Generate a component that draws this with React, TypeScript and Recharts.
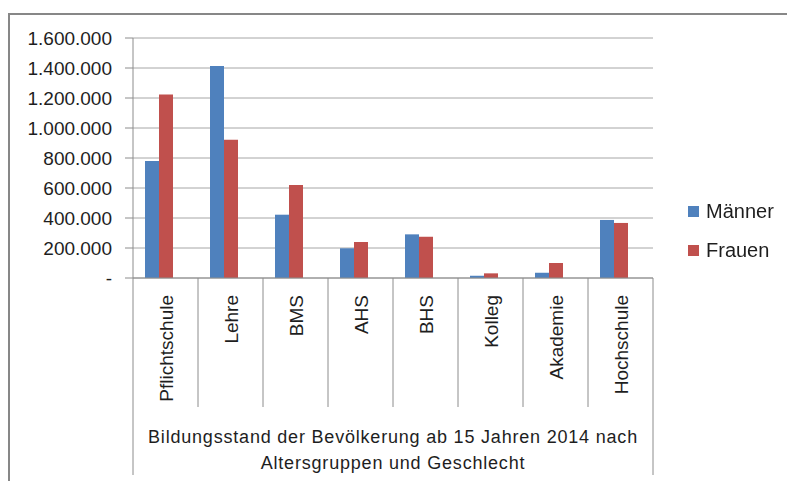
import React from 'react';
import { BarChart, Bar, XAxis, YAxis, CartesianGrid, Legend } from 'recharts';

const categories = ['Pflichtschule', 'Lehre', 'BMS', 'AHS', 'BHS', 'Kolleg', 'Akademie', 'Hochschule'];
const maenner = [780000, 1413000, 422000, 198000, 291000, 15000, 35000, 387000];
const frauen = [1224000, 922000, 620000, 240000, 275000, 31000, 100000, 367000];
const yTicks = [0, 200000, 400000, 600000, 800000, 1000000, 1200000, 1400000, 1600000];
const seriesNames = ['Männer', 'Frauen'];
const seriesColors = ['#4F81BD', '#C0504D'];
const titleLines = ['Bildungsstand der Bevölkerung ab 15 Jahren 2014 nach', 'Altersgruppen und Geschlecht'];

const data = categories.map((c, i) => ({ name: c, m: maenner[i], f: frauen[i] }));

const CHART_W = 777;
const CHART_H = 466;
const MARGIN = { top: 23, right: 134, bottom: 74, left: 0 };
const Y_AXIS_W = 123;
const X_AXIS_H = 129;
const PLOT_W = CHART_W - MARGIN.left - MARGIN.right - Y_AXIS_W;
const FONT = '"Liberation Sans", Arial, sans-serif';
const LINE = '#8c8c8c';
const TEXT = '#1e1e1e';

const fmt = (n: number) => (n === 0 ? '-' : String(n).replace(/\B(?=(\d{3})+(?!\d))/g, '.'));

const CatTick = (props: any) => {
  const { x, y, payload, index } = props;
  const bw = PLOT_W / categories.length;
  const left = x - bw / 2;
  const right = x + bw / 2;
  const isFirst = index === 0;
  const isLast = index === categories.length - 1;
  const full = X_AXIS_H + 68;
  return (
    <g>
      <line x1={left} y1={y} x2={left} y2={y + (isFirst ? full : X_AXIS_H)} stroke={LINE} strokeWidth={1} />
      {isLast && <line x1={right} y1={y} x2={right} y2={y + full} stroke={LINE} strokeWidth={1} />}
      <text
        transform={`translate(${x + 1},${y + 17}) rotate(-90)`}
        textAnchor="end"
        dominantBaseline="central"
        fontSize={19}
        fontFamily={FONT}
        fill={TEXT}
      >
        {payload.value}
      </text>
    </g>
  );
};

const TitleBlock = (props: any) => {
  const vb = props.viewBox || {};
  const cx = vb.x + vb.width / 2;
  const bottom = vb.y + vb.height;
  return (
    <g>
      {titleLines.map((t, i) => (
        <text
          key={i}
          x={cx}
          y={bottom + 36 + i * 26}
          textAnchor="middle"
          fontSize={18}
          letterSpacing={0.8}
          fontFamily={FONT}
          fill={TEXT}
        >
          {t}
        </text>
      ))}
    </g>
  );
};

const LegendContent = (props: any) => {
  const items = (props.payload || [])
    .filter((p: any) => p.type !== 'none' && seriesNames.indexOf(p.value) >= 0)
    .sort((a: any, b: any) => seriesNames.indexOf(a.value) - seriesNames.indexOf(b.value));
  return (
    <div style={{ fontFamily: FONT }}>
      {items.map((it: any, i: number) => (
        <div key={i} style={{ display: 'flex', alignItems: 'center', height: 39 }}>
          <span style={{ display: 'inline-block', width: 11, height: 11, background: it.color, marginRight: 7 }} />
          <span style={{ fontSize: 20, color: TEXT }}>{it.value}</span>
        </div>
      ))}
    </div>
  );
};

export default function App() {
  return (
    <div
      style={{
        position: 'fixed',
        left: 8,
        top: 13,
        width: 779,
        height: 468,
        borderTop: '2px solid #878787',
        borderLeft: '2px solid #878787',
        boxSizing: 'border-box',
        background: '#fff',
      }}
    >
      <BarChart width={CHART_W} height={CHART_H} data={data} margin={MARGIN} barGap={0} barSize={14}>
        <CartesianGrid horizontal vertical={false} stroke="#a6a6a6" />
        <XAxis
          dataKey="name"
          height={X_AXIS_H}
          interval={0}
          tickLine={false}
          tickSize={0}
          tickMargin={0}
          axisLine={{ stroke: LINE }}
          tick={<CatTick />}
          label={{ content: (p: any) => <TitleBlock {...p} /> }}
        />
        <YAxis
          width={Y_AXIS_W}
          domain={[0, 1600000]}
          ticks={yTicks}
          tickFormatter={fmt}
          tickSize={8}
          tickMargin={13}
          axisLine={{ stroke: LINE }}
          tickLine={{ stroke: LINE }}
          tick={{ fontSize: 19, fontFamily: FONT, fill: TEXT }}
          interval={0}
        />
        <Legend
          layout="vertical"
          verticalAlign="middle"
          align="center"
          content={<LegendContent />}
          wrapperStyle={{ left: 678, top: 177, width: 100 }}
        />
        <Bar dataKey="m" name={seriesNames[0]} fill={seriesColors[0]} isAnimationActive={false} />
        <Bar dataKey="f" name={seriesNames[1]} fill={seriesColors[1]} isAnimationActive={false} />
        <Bar dataKey="leer" legendType="none" fill="none" isAnimationActive={false} />
      </BarChart>
    </div>
  );
}
